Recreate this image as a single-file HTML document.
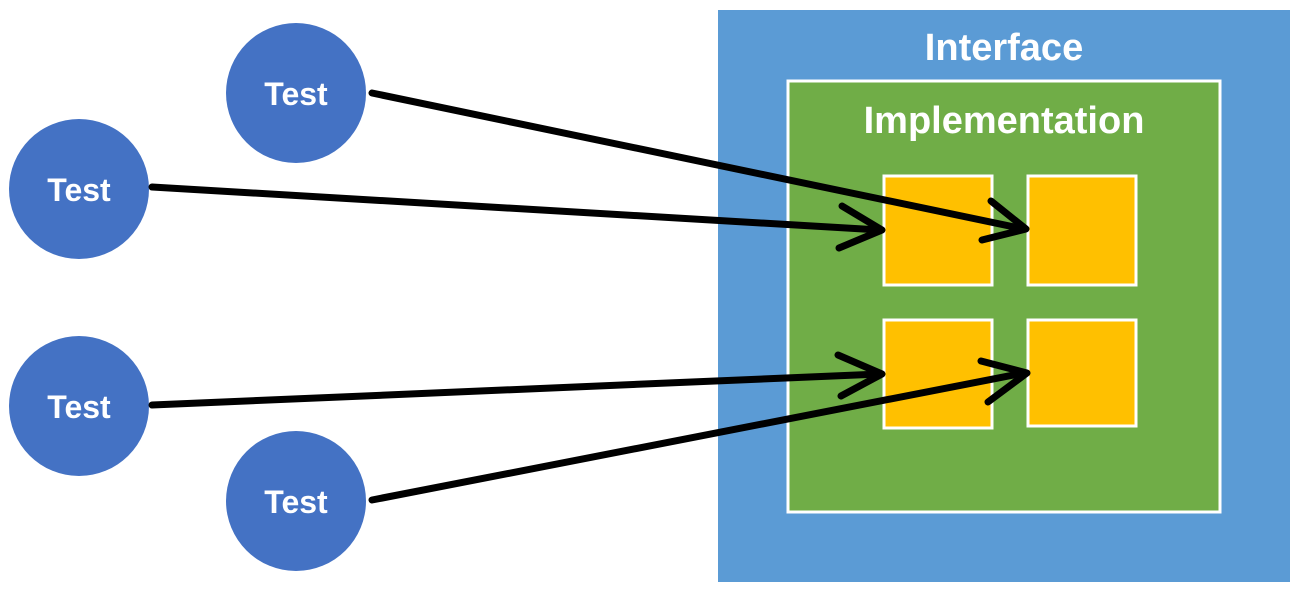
<!DOCTYPE html>
<html><head><style>
body{margin:0;background:#fff;width:1298px;height:592px;overflow:hidden}
</style></head><body>
<svg width="1298" height="592" xmlns="http://www.w3.org/2000/svg" font-family="Liberation Sans, sans-serif" font-weight="bold">
<rect x="718" y="10" width="572" height="572" fill="#5b9bd5"/>
<text x="1004" y="60" font-size="38" fill="#fff" text-anchor="middle">Interface</text>
<rect x="788" y="81" width="432" height="431" fill="#70ad47" stroke="#fff" stroke-width="3"/>
<text x="1004" y="133" font-size="38" fill="#fff" text-anchor="middle">Implementation</text>
<g fill="#ffc000" stroke="#fff" stroke-width="3">
<rect x="884" y="176" width="108" height="109"/>
<rect x="1028" y="176" width="108" height="109"/>
<rect x="884" y="320" width="108" height="108"/>
<rect x="1028" y="320" width="108" height="106"/>
</g>
<g fill="#4472c4">
<circle cx="296" cy="93" r="70"/>
<circle cx="79" cy="189" r="70"/>
<circle cx="79" cy="406" r="70"/>
<circle cx="296" cy="501" r="70"/>
</g>
<g font-size="32" fill="#fff" text-anchor="middle">
<text x="296" y="105">Test</text>
<text x="79" y="201">Test</text>
<text x="79" y="418">Test</text>
<text x="296" y="513">Test</text>
</g>
<g stroke="#000" stroke-width="7" stroke-linecap="round" fill="none" stroke-linejoin="round">
<line x1="372" y1="93" x2="1024" y2="229"/>
<polyline points="991,201 1026,229 982,240"/>
<line x1="152" y1="187" x2="880" y2="230"/>
<polyline points="842,206 882,230 839,248"/>
<line x1="152" y1="405" x2="880" y2="374"/>
<polyline points="838,355 882,374 841,396"/>
<line x1="372" y1="500" x2="1024" y2="373"/>
<polyline points="981,361 1027,373 988,402"/>
</g>
</svg>
</body></html>
